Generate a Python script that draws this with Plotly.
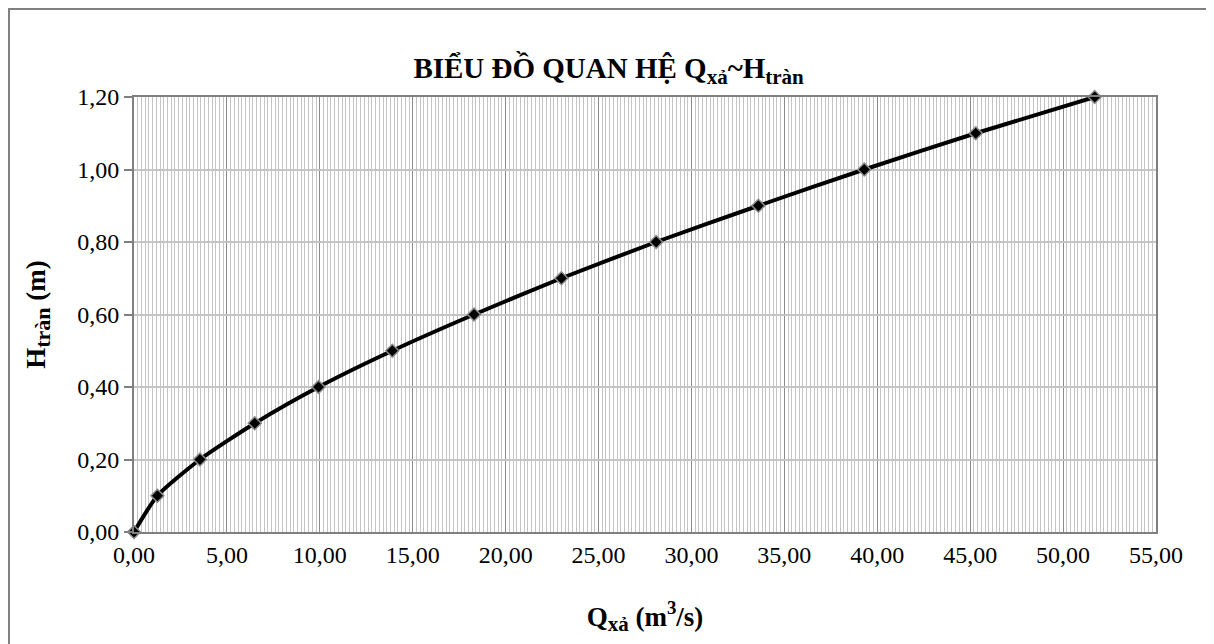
import plotly.graph_objects as go

# Q_xa (m3/s) vs H_tran (m)
q_xa = [0.0, 1.26, 3.55, 6.50, 9.93, 13.9, 18.3, 23.0, 28.1, 33.6, 39.3, 45.3, 51.7]
h_tran = [0.0, 0.10, 0.20, 0.30, 0.40, 0.50, 0.60, 0.70, 0.80, 0.90, 1.00, 1.10, 1.20]

FONT = "Liberation Serif"


def sub(txt, size):
    # larger subscript than plotly's default 70%
    return f"<sub><span style='font-size:{size}px'>{txt}</span></sub>"


fig = go.Figure()

fig.add_trace(go.Scatter(
    x=q_xa, y=h_tran,
    mode="lines+markers",
    line=dict(color="black", width=4, shape="spline", smoothing=0.6),
    marker=dict(symbol="diamond", size=10, color="black",
                line=dict(color="#8c8c8c", width=1.5)),
    cliponaxis=False,
    hoverinfo="skip",
    showlegend=False,
))

# outer chart frame
fig.add_shape(
    type="rect", xref="paper", yref="paper",
    x0=-0.1223, x1=1.0538, y0=-0.4, y1=1.2023,
    line=dict(color="#808080", width=2),
    layer="below",
)

fig.update_layout(
    width=1206, height=636,
    margin=dict(l=126, r=58, t=89, b=112),
    separators=", ",
    paper_bgcolor="white",
    plot_bgcolor="white",
    showlegend=False,
    font=dict(family=FONT, size=24, color="black"),
    title=dict(
        text=f"<b>BIỂU ĐỒ QUAN HỆ Q{sub('xả', 21)}~H{sub('tràn', 21)}</b>",
        x=0.498, xanchor="center", y=0.906, yanchor="middle",
        font=dict(family=FONT, size=29, color="black"),
    ),
    xaxis=dict(
        range=[0, 55], dtick=5, tick0=0,
        tickformat=".2f",
        showgrid=True, gridcolor="#8a8a8a", gridwidth=1,
        minor=dict(dtick=0.2, showgrid=True, gridcolor="#c4c4c4", gridwidth=1),
        showline=True, linecolor="#808080", linewidth=2, mirror=True,
        ticks="", ticklen=0,
        zeroline=False,
        tickfont=dict(family=FONT, size=24),
        title=dict(text=f"<b>Q{sub('xả', 21)} (m<sup>3</sup>/s)</b>", standoff=40,
                   font=dict(family=FONT, size=27)),
    ),
    yaxis=dict(
        range=[0, 1.2], dtick=0.2, tick0=0,
        tickformat=".2f",
        showgrid=True, gridcolor="#c4c4c4", gridwidth=2,
        showline=True, linecolor="#808080", linewidth=2, mirror=True,
        ticks="outside", ticklen=8, tickcolor="#808080", tickwidth=2,
        zeroline=False,
        tickfont=dict(family=FONT, size=24),
        title=dict(text=f"<b>H{sub('tràn', 22)} (m)</b>", standoff=24,
                   font=dict(family=FONT, size=27)),
    ),
)

fig.write_html("out.html")
